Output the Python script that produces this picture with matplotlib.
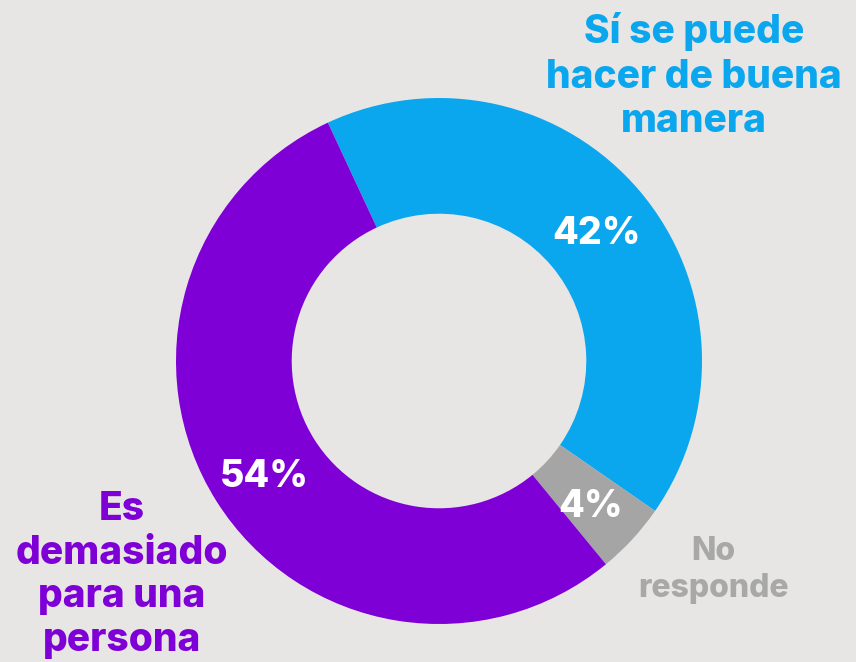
import matplotlib
matplotlib.use("Agg")
import matplotlib.pyplot as plt
import numpy as np

categories = ["Sí se puede\nhacer de buena\nmanera", "No\nresponde", "Es\ndemasiado\npara una\npersona"]
values = [41.6, 4.4, 54.0]
pct_labels = ["42%", "4%", "54%"]
colors = ["#0AA6EE", "#A5A5A5", "#7F00D6"]
label_colors = ["#0AA6EE", "#A8A8A8", "#7F00D6"]

BG = "#E8E6E4"
W, H = 856, 662
cx, cy, R = 439, 361, 263

plt.rcParams['font.family'] = ['Inter', 'DejaVu Sans']

fig = plt.figure(figsize=(W / 100, H / 100), dpi=100, facecolor=BG)
ax = fig.add_axes([(cx - R) / W, (H - cy - R) / H, 2 * R / W, 2 * R / H])
ax.set_facecolor(BG)

wedges, _ = ax.pie(values, colors=colors, startangle=115, counterclock=False,
                   radius=1.0, wedgeprops=dict(width=0.44, linewidth=0))
ax.set_xlim(-1, 1)
ax.set_ylim(-1, 1)
ax.set_aspect('equal')
ax.axis('off')

for w, lab in zip(wedges, pct_labels):
    ang = np.deg2rad((w.theta1 + w.theta2) / 2)
    r = 0.785
    ax.text(r * np.cos(ang), r * np.sin(ang) - 6 / R, lab, ha='center', va='center',
            color='white', fontsize=27, fontweight='heavy')

def px(x, y):
    return ((x - cx) / R, (cy - y) / R)

positions = [(694, 76), (713, 570), (122, 575)]
sizes = [28, 23, 28]
spacings = [1.27, 1.28, 1.24]
for cat, pos, col, fs, ls in zip(categories, positions, label_colors, sizes, spacings):
    x, y = px(*pos)
    ax.text(x, y, cat, ha='center', va='center', color=col, fontsize=fs,
            fontweight='heavy', linespacing=ls, clip_on=False)

fig.savefig("out.png", dpi=100, facecolor=BG)
